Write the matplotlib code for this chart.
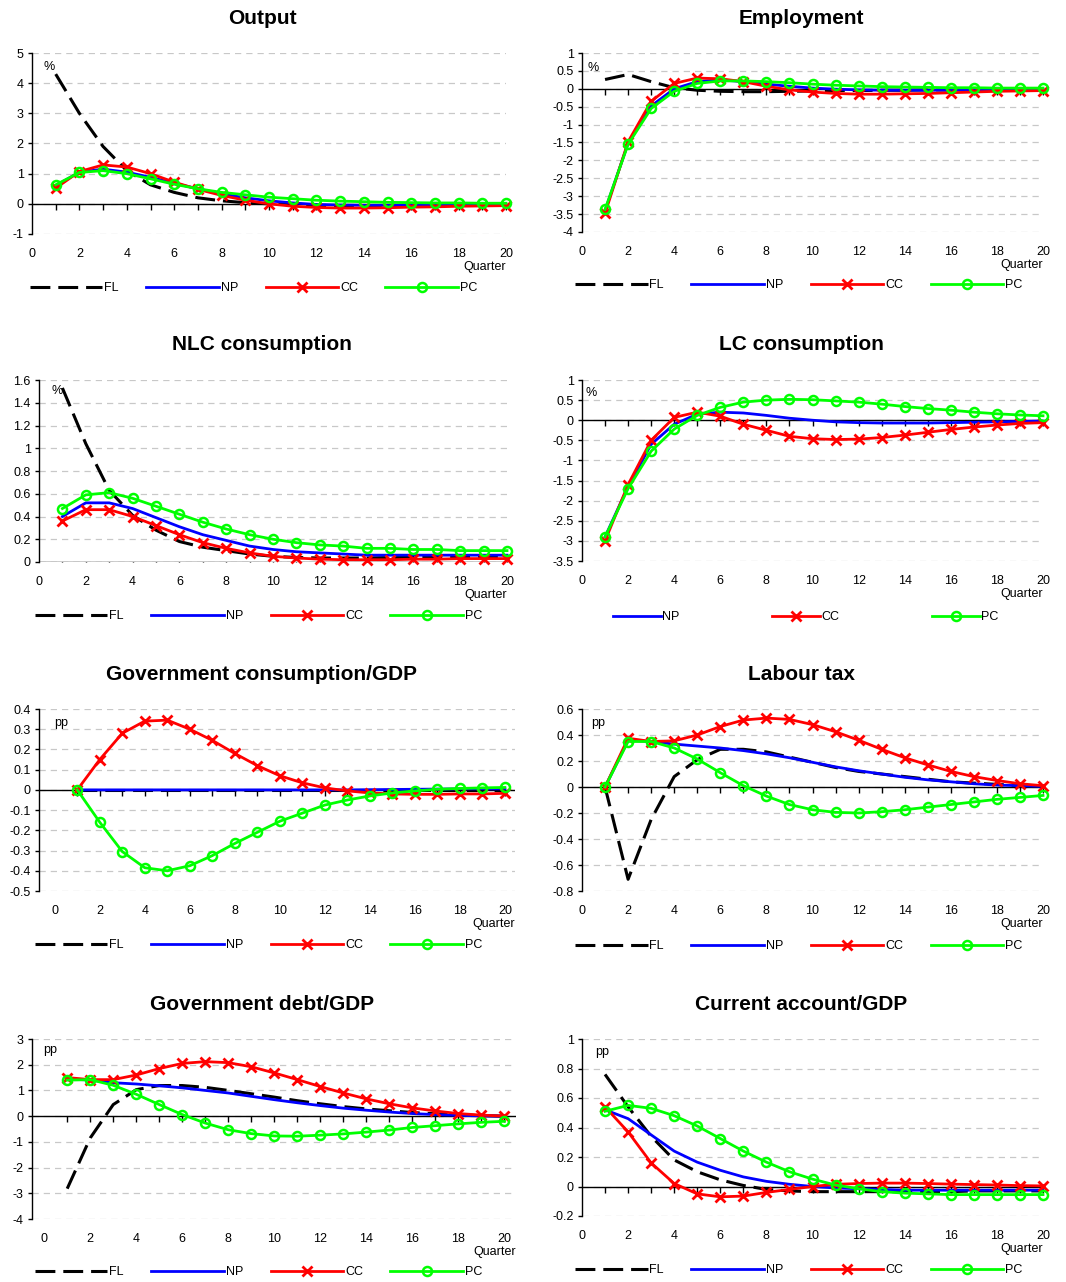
import matplotlib
matplotlib.use('Agg')
import matplotlib.pyplot as plt
import numpy as np

plt.rcParams['font.family'] = ['Liberation Sans', 'DejaVu Sans']
plt.rcParams['axes.unicode_minus'] = False

quarters = np.arange(1, 21)
xticks = np.arange(0, 21, 2)

# Output, %
output_fl = [4.3, 3.0, 1.9, 1.1, 0.63, 0.38, 0.2, 0.1, 0.04, 0.0,
             -0.03, -0.05, -0.06, -0.06, -0.06, -0.05, -0.05, -0.04, -0.04, -0.03]
output_np = [0.6, 1.05, 1.15, 1.05, 0.88, 0.68, 0.5, 0.33, 0.2, 0.1,
             0.03, -0.02, -0.04, -0.05, -0.05, -0.05, -0.04, -0.03, -0.03, -0.02]
output_cc = [0.52, 1.07, 1.29, 1.22, 1.0, 0.72, 0.48, 0.28, 0.12, 0.0,
             -0.08, -0.12, -0.14, -0.14, -0.13, -0.11, -0.1, -0.08, -0.07, -0.06]
output_pc = [0.63, 1.04, 1.1, 1.0, 0.83, 0.65, 0.5, 0.38, 0.3, 0.22,
             0.17, 0.12, 0.09, 0.07, 0.05, 0.04, 0.03, 0.03, 0.02, 0.02]

# Employment, %
empl_fl = [0.26, 0.4, 0.2, 0.03, -0.04, -0.07, -0.08, -0.08, -0.07, -0.06,
           -0.05, -0.05, -0.04, -0.04, -0.03, -0.03, -0.03, -0.02, -0.02, -0.02]
empl_np = [-3.4, -1.52, -0.48, 0.0, 0.2, 0.25, 0.2, 0.13, 0.07, 0.02,
           -0.01, -0.03, -0.04, -0.04, -0.04, -0.04, -0.03, -0.03, -0.02, -0.02]
empl_cc = [-3.48, -1.48, -0.35, 0.15, 0.3, 0.28, 0.2, 0.07, -0.03, -0.09,
           -0.13, -0.15, -0.15, -0.14, -0.13, -0.11, -0.09, -0.07, -0.06, -0.05]
empl_pc = [-3.37, -1.55, -0.55, -0.07, 0.15, 0.22, 0.22, 0.2, 0.17, 0.13,
           0.1, 0.08, 0.06, 0.05, 0.04, 0.03, 0.03, 0.02, 0.02, 0.02]

# NLC consumption, %
nlc_fl = [1.53, 1.04, 0.63, 0.41, 0.28, 0.18, 0.13, 0.1, 0.07, 0.05,
          0.04, 0.035, 0.035, 0.035, 0.04, 0.04, 0.04, 0.04, 0.04, 0.04]
nlc_np = [0.4, 0.52, 0.52, 0.47, 0.39, 0.31, 0.24, 0.19, 0.14, 0.11,
          0.09, 0.08, 0.07, 0.06, 0.06, 0.06, 0.06, 0.06, 0.06, 0.06]
nlc_cc = [0.36, 0.46, 0.46, 0.4, 0.32, 0.24, 0.17, 0.12, 0.08, 0.05,
          0.035, 0.025, 0.02, 0.02, 0.02, 0.025, 0.025, 0.03, 0.03, 0.03]
nlc_pc = [0.47, 0.59, 0.61, 0.56, 0.49, 0.42, 0.35, 0.29, 0.24, 0.2,
          0.17, 0.15, 0.14, 0.12, 0.12, 0.11, 0.11, 0.1, 0.1, 0.1]

# LC consumption, % (no FL series)
lc_np = [-2.9, -1.65, -0.6, -0.1, 0.15, 0.2, 0.18, 0.12, 0.05, 0.0,
         -0.04, -0.06, -0.07, -0.07, -0.07, -0.06, -0.05, -0.04, -0.03, -0.02]
lc_cc = [-3.0, -1.6, -0.5, 0.07, 0.2, 0.1, -0.1, -0.25, -0.4, -0.46,
         -0.48, -0.47, -0.43, -0.37, -0.3, -0.23, -0.17, -0.12, -0.08, -0.06]
lc_pc = [-2.9, -1.7, -0.77, -0.22, 0.12, 0.32, 0.45, 0.5, 0.52, 0.51,
         0.48, 0.45, 0.4, 0.34, 0.29, 0.25, 0.2, 0.16, 0.13, 0.11]

# Government consumption/GDP, pp
gc_fl = [0.0] * 20
gc_np = [0.0, 0.0, 0.0, 0.0, 0.0, 0.0, 0.0, 0.0, 0.0, 0.0,
         0.0, 0.0, 0.0, 0.001, 0.002, 0.003, 0.004, 0.005, 0.005, 0.005]
gc_cc = [0.0, 0.15, 0.28, 0.34, 0.345, 0.3, 0.245, 0.18, 0.12, 0.07,
         0.035, 0.01, -0.005, -0.015, -0.02, -0.022, -0.022, -0.02, -0.02, -0.017]
gc_pc = [0.0, -0.16, -0.305, -0.385, -0.4, -0.375, -0.325, -0.265, -0.21, -0.155,
         -0.115, -0.075, -0.05, -0.03, -0.015, -0.005, 0.003, 0.007, 0.01, 0.012]

# Labour tax, pp
lt_fl = [0.0, -0.71, -0.25, 0.08, 0.21, 0.29, 0.29, 0.27, 0.23, 0.19,
         0.15, 0.12, 0.1, 0.08, 0.06, 0.04, 0.03, 0.02, 0.01, 0.005]
lt_np = [0.0, 0.36, 0.35, 0.33, 0.315, 0.3, 0.28, 0.255, 0.225, 0.19,
         0.155, 0.125, 0.1, 0.075, 0.055, 0.04, 0.025, 0.015, 0.01, 0.005]
lt_cc = [0.0, 0.375, 0.35, 0.355, 0.4, 0.465, 0.515, 0.53, 0.52, 0.48,
         0.425, 0.36, 0.29, 0.225, 0.17, 0.12, 0.08, 0.05, 0.025, 0.01]
lt_pc = [0.0, 0.35, 0.35, 0.3, 0.215, 0.11, 0.01, -0.07, -0.135, -0.175,
         -0.195, -0.2, -0.19, -0.175, -0.155, -0.135, -0.115, -0.095, -0.08, -0.065]

# Government debt/GDP, pp
debt_fl = [-2.82, -0.85, 0.45, 1.03, 1.19, 1.19, 1.12, 1.0, 0.87, 0.74,
           0.6, 0.48, 0.37, 0.28, 0.21, 0.14, 0.09, 0.05, 0.02, 0.0]
debt_np = [1.45, 1.4, 1.3, 1.25, 1.18, 1.1, 1.0, 0.9, 0.77, 0.64,
           0.52, 0.41, 0.31, 0.23, 0.16, 0.1, 0.06, 0.03, 0.01, 0.0]
debt_cc = [1.5, 1.42, 1.42, 1.6, 1.85, 2.05, 2.12, 2.08, 1.92, 1.68,
           1.42, 1.15, 0.9, 0.67, 0.48, 0.32, 0.2, 0.1, 0.04, 0.0]
debt_pc = [1.4, 1.42, 1.2, 0.85, 0.45, 0.06, -0.27, -0.53, -0.68, -0.77,
           -0.78, -0.74, -0.69, -0.62, -0.54, -0.44, -0.37, -0.3, -0.24, -0.2]

# Current account/GDP, pp
ca_fl = [0.76, 0.54, 0.34, 0.18, 0.1, 0.045, 0.007, -0.02, -0.03, -0.035,
         -0.035, -0.035, -0.035, -0.035, -0.035, -0.035, -0.03, -0.03, -0.03, -0.03]
ca_np = [0.52, 0.46, 0.35, 0.24, 0.165, 0.11, 0.065, 0.035, 0.015, 0.0,
         -0.01, -0.015, -0.02, -0.025, -0.025, -0.025, -0.025, -0.025, -0.025, -0.025]
ca_cc = [0.54, 0.37, 0.16, 0.02, -0.05, -0.07, -0.065, -0.04, -0.02, 0.0,
         0.015, 0.02, 0.023, 0.023, 0.02, 0.016, 0.013, 0.01, 0.006, 0.004]
ca_pc = [0.51, 0.55, 0.53, 0.48, 0.41, 0.325, 0.24, 0.165, 0.1, 0.05,
         0.01, -0.015, -0.035, -0.045, -0.05, -0.055, -0.055, -0.055, -0.055, -0.055]

W, H = 1066, 1282
fig = plt.figure(figsize=(W / 100, H / 100), dpi=100)

styles = {
    'FL': dict(color='black', lw=2.2, dashes=(6.5, 2.6)),
    'NP': dict(color='#0000ff', lw=2),
    'CC': dict(color='#ff0000', lw=2, marker='x', ms=7, mew=2),
    'PC': dict(color='#00ff00', lw=2, marker='o', ms=6.5, mew=1.8, mfc='none'),
}

# title, (left, top, right, bottom) px, xlim, ylim, ystep, unit, unit offset,
# series, title x px, legend (x, y) px, handle length, column spacing
panels = [
    ('Output', (32, 53, 506, 234), (0, 20), (-1, 5), 1, '%', (11, -14),
     dict(FL=output_fl, NP=output_np, CC=output_cc, PC=output_pc), 262, (30, 288), 5.8, 2.2),
    ('Employment', (582, 53, 1043, 232), (0, 20), (-4, 1), 0.5, '%', (5, -15),
     dict(FL=empl_fl, NP=empl_np, CC=empl_cc, PC=empl_pc), 801, (575, 285), 5.8, 2.2),
    ('NLC consumption', (39, 380, 507, 562), (0, 20), (0, 1.6), 0.2, '%', (12, -11),
     dict(FL=nlc_fl, NP=nlc_np, CC=nlc_cc, PC=nlc_pc), 262, (35, 616), 5.8, 2.2),
    ('LC consumption', (582, 380, 1043, 561), (0, 20), (-3.5, 1), 0.5, '%', (3, -13),
     dict(NP=lc_np, CC=lc_cc, PC=lc_pc), 801, (613, 617), 3.8, 7.4),
    ('Government consumption/GDP', (39, 709, 515, 891), (-0.7, 20.45), (-0.5, 0.4), 0.1, 'pp', (15, -14),
     dict(FL=gc_fl, NP=gc_np, CC=gc_cc, PC=gc_pc), 262, (35, 945), 5.8, 2.2),
    ('Labour tax', (582, 709, 1043, 891), (0, 20), (-0.8, 0.6), 0.2, 'pp', (9, -14),
     dict(FL=lt_fl, NP=lt_np, CC=lt_cc, PC=lt_pc), 801, (575, 946), 5.8, 2.2),
    ('Government debt/GDP', (32, 1039, 516, 1219), (-0.53, 20.5), (-4, 3), 1, 'pp', (11, -11),
     dict(FL=debt_fl, NP=debt_np, CC=debt_cc, PC=debt_pc), 262, (35, 1272), 5.8, 2.2),
    ('Current account/GDP', (582, 1039, 1043, 1216), (0, 20), (-0.2, 1), 0.2, 'pp', (13, -13),
     dict(FL=ca_fl, NP=ca_np, CC=ca_cc, PC=ca_pc), 801, (575, 1270), 5.8, 2.2),
]


def fmt(v, pos):
    r = round(v, 2)
    if abs(r) < 1e-9:
        return '0'
    return f'{r:g}'


for (title, (l, t, r, b), xlim, ylim, ystep, unit, uoff,
     series, tx, (lgx, lgy), hlen, cspace) in panels:
    ax = fig.add_axes([l / W, 1 - b / H, (r - l) / W, (b - t) / H])
    ax.set_xlim(*xlim)
    ax.set_ylim(*ylim)
    ax.set_yticks(np.arange(ylim[0], ylim[1] + ystep / 2, ystep))
    ax.yaxis.set_major_formatter(plt.FuncFormatter(fmt))
    ax.set_xticks(xticks)
    ax.yaxis.grid(True, color='#c8c8c8', linestyle=(0, (5, 4)), lw=0.9)
    ax.set_axisbelow(True)
    for s in ('top', 'right', 'bottom'):
        ax.spines[s].set_visible(False)
    ax.spines['left'].set_linewidth(1)
    ax.tick_params(axis='x', length=0, pad=10, labelsize=9)
    ax.tick_params(axis='y', length=3, width=1, pad=3, labelsize=9)

    ax.axhline(0, color='black', lw=1, zorder=1.5)
    ax.plot(quarters, np.zeros(len(quarters)), ls='none', marker=3, ms=4,
            mew=1, color='black', zorder=1.5)

    for name, vals in series.items():
        ax.plot(quarters, vals, label=name, clip_on=False, zorder=3, **styles[name])

    ax.annotate(unit, xy=(0, 1), xycoords='axes fraction', xytext=uoff,
                textcoords='offset pixels', ha='left', va='center', fontsize=9)
    ax.annotate('Quarter', xy=(1, 0), xycoords='axes fraction', xytext=(0, -33),
                textcoords='offset pixels', ha='right', va='center', fontsize=9)

    fig.text(tx / W, 1 - (t - 35) / H, title, ha='center', va='center',
             fontsize=15, fontweight='bold')

    ax.legend(loc='center left', bbox_to_anchor=(lgx / W, 1 - lgy / H),
              bbox_transform=fig.transFigure, ncol=len(series), frameon=False,
              handlelength=hlen, handletextpad=0.15, columnspacing=cspace,
              borderpad=0, borderaxespad=0, fontsize=9)

fig.savefig('out.png', dpi=100)
